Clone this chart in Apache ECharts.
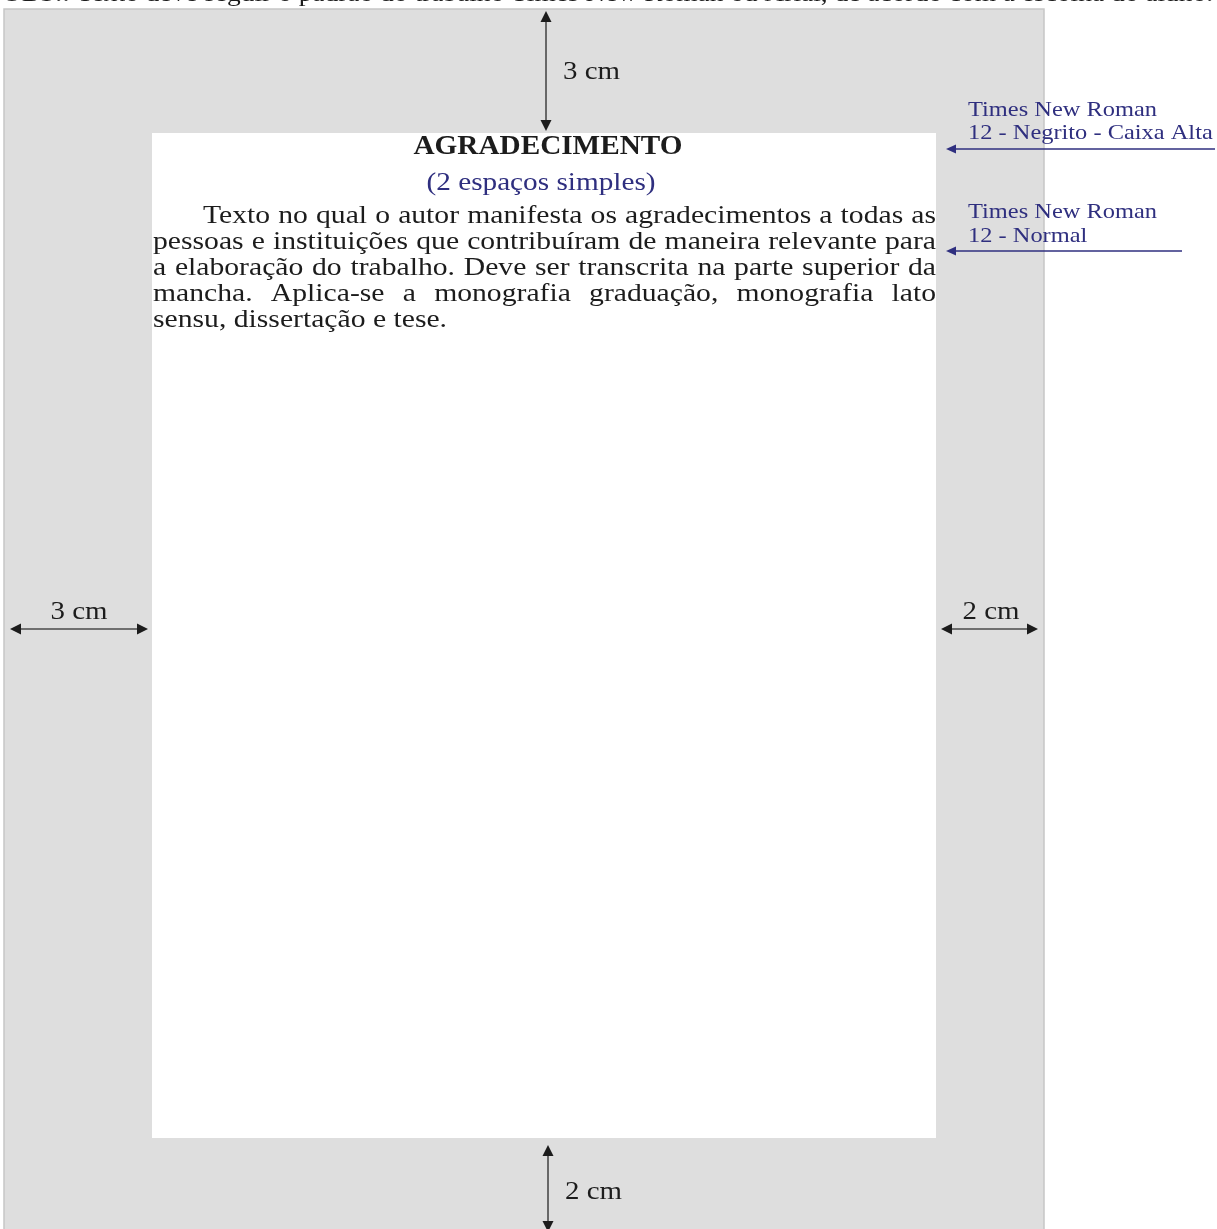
<!DOCTYPE html>
<html>
<head>
<meta charset="utf-8">
<script src="https://cdn.jsdelivr.net/npm/echarts@6/dist/echarts.min.js"></script>
<style>
html,body{margin:0;padding:0;background:#fff;}
#c{width:1217px;height:1229px;}
</style>
</head>
<body>
<div id="c"></div>
<script>
const topNote = 'OBS.: Texto deve seguir o padrão do trabalho Times New Roman ou Arial, de acordo com a escolha do aluno.';
const titleText = 'AGRADECIMENTO';
const subtitleText = '(2 espaços simples)';
const paragraphLines = [
  'Texto no qual o autor manifesta os agradecimentos a todas as',
  'pessoas e instituições que contribuíram de maneira relevante para',
  'a elaboração do trabalho. Deve ser transcrita na parte superior da',
  'mancha. Aplica-se a monografia graduação, monografia lato',
  'sensu, dissertação e tese.'
];
const marginLabels = { top: '3 cm', left: '3 cm', right: '2 cm', bottom: '2 cm' };
const fontNotes = [
  ['Times New Roman', '12 - Negrito - Caixa Alta'],
  ['Times New Roman', '12 - Normal']
];

const SERIF = '"Liberation Serif", "Times New Roman", serif';
const NAVY = '#2f2f7f';
const INK = '#1c1c1c';

const ctx = document.createElement('canvas').getContext('2d');
function fontStr(size, weight) { return (weight || 'normal') + ' ' + size + 'px ' + SERIF; }
function measure(t, size, weight) { ctx.font = fontStr(size, weight); return ctx.measureText(t).width; }

const els = [];
// x,y = anchor (y = middle of em box); sx = horizontal stretch
function text(x, y, t, size, opts) {
  opts = opts || {};
  els.push({
    type: 'text', x: x, y: y, z: 10, scaleX: opts.sx || 1,
    style: {
      text: t,
      font: fontStr(size, opts.weight),
      fill: opts.fill || INK,
      align: opts.align || 'left',
      verticalAlign: 'middle'
    }
  });
}
function line(x1, y1, x2, y2, color, w) {
  els.push({ type: 'line', z: 5, shape: { x1, y1, x2, y2 }, style: { stroke: color, lineWidth: w || 1.5 } });
}
function head(tipX, tipY, dir, color, len, half) {
  len = len || 11; half = half || 5.5;
  let pts;
  if (dir === 'up') pts = [[tipX, tipY], [tipX - half, tipY + len], [tipX + half, tipY + len]];
  if (dir === 'down') pts = [[tipX, tipY], [tipX - half, tipY - len], [tipX + half, tipY - len]];
  if (dir === 'left') pts = [[tipX, tipY], [tipX + len, tipY - half], [tipX + len, tipY + half]];
  if (dir === 'right') pts = [[tipX, tipY], [tipX - len, tipY - half], [tipX - len, tipY + half]];
  els.push({ type: 'polygon', z: 6, shape: { points: pts }, style: { fill: color } });
}
function vArrow(x, y1, y2) { line(x, y1 + 6, x, y2 - 6, '#4a4a4a', 1.6); head(x, y1, 'up', INK); head(x, y2, 'down', INK); }
function hArrow(y, x1, x2) { line(x1 + 6, y, x2 - 6, y, '#4a4a4a', 1.6); head(x1, y, 'left', INK); head(x2, y, 'right', INK); }

// page background
els.push({ type: 'rect', z: 1, shape: { x: 4, y: 9, width: 1040, height: 1232 }, style: { fill: '#dedede', stroke: '#c6c6c6', lineWidth: 1.5 } });
els.push({ type: 'rect', z: 2, shape: { x: 152, y: 133, width: 784, height: 1005 }, style: { fill: '#ffffff' } });

// top note (cut at top edge)
const topSize = 24;
text(2, -5.5, topNote, topSize, { sx: 1211 / measure(topNote, topSize) });

// margin arrows + labels
const LS = 26, lsx = 57 / measure('3 cm', LS);
vArrow(546, 11, 131);
text(563, 72, marginLabels.top, LS, { sx: lsx });
vArrow(548, 1145, 1232);
text(565, 1192, marginLabels.bottom, LS, { sx: lsx });
hArrow(629, 10, 148);
text(79, 612, marginLabels.left, LS, { align: 'center', sx: lsx });
hArrow(629, 941, 1038);
text(991, 612, marginLabels.right, LS, { align: 'center', sx: lsx });

// title & subtitle
const TS = 28;
text(548, 147, titleText, TS, { weight: 'bold', align: 'center', sx: 269 / measure(titleText, TS, 'bold') });
const SS = 26;
text(541, 183, subtitleText, SS, { align: 'center', fill: NAVY, sx: 229 / measure(subtitleText, SS) });

// justified paragraph
const PS = 25;
const psx = 294 / measure(paragraphLines[paragraphLines.length - 1], PS);
const pLeft = 153, pRight = 936, indent = 50;
const lineY = [216.6, 242.3, 268.3, 294.3, 320];
paragraphLines.forEach((ln, i) => {
  const x0 = pLeft + (i === 0 ? indent : 0);
  const last = i === paragraphLines.length - 1;
  if (last) { text(x0, lineY[i], ln, PS, { sx: psx }); return; }
  const words = ln.split(' ');
  const ws = words.map(w => measure(w, PS) * psx);
  const sum = ws.reduce((a, b) => a + b, 0);
  const gap = (pRight - x0 - sum) / (words.length - 1);
  let x = x0;
  words.forEach((w, k) => { text(x, lineY[i], w, PS, { sx: psx }); x += ws[k] + gap; });
});

// font notes on the right
const NS = 22, nsx = 189 / measure(fontNotes[0][0], NS);
text(968, 110, fontNotes[0][0], NS, { fill: NAVY, sx: nsx });
text(968, 133, fontNotes[0][1], NS, { fill: NAVY, sx: nsx });
line(955, 149, 1215, 149, NAVY, 1.5);
head(946, 149, 'left', NAVY, 10, 4.5);
text(968, 212, fontNotes[1][0], NS, { fill: NAVY, sx: nsx });
text(968, 236, fontNotes[1][1], NS, { fill: NAVY, sx: nsx });
line(955, 251, 1182, 251, NAVY, 1.5);
head(946, 251, 'left', NAVY, 10, 4.5);

const chart = echarts.init(document.getElementById('c'), null, { renderer: 'canvas' });
chart.setOption({ animation: false, graphic: { elements: els } });
</script>
</body>
</html>
